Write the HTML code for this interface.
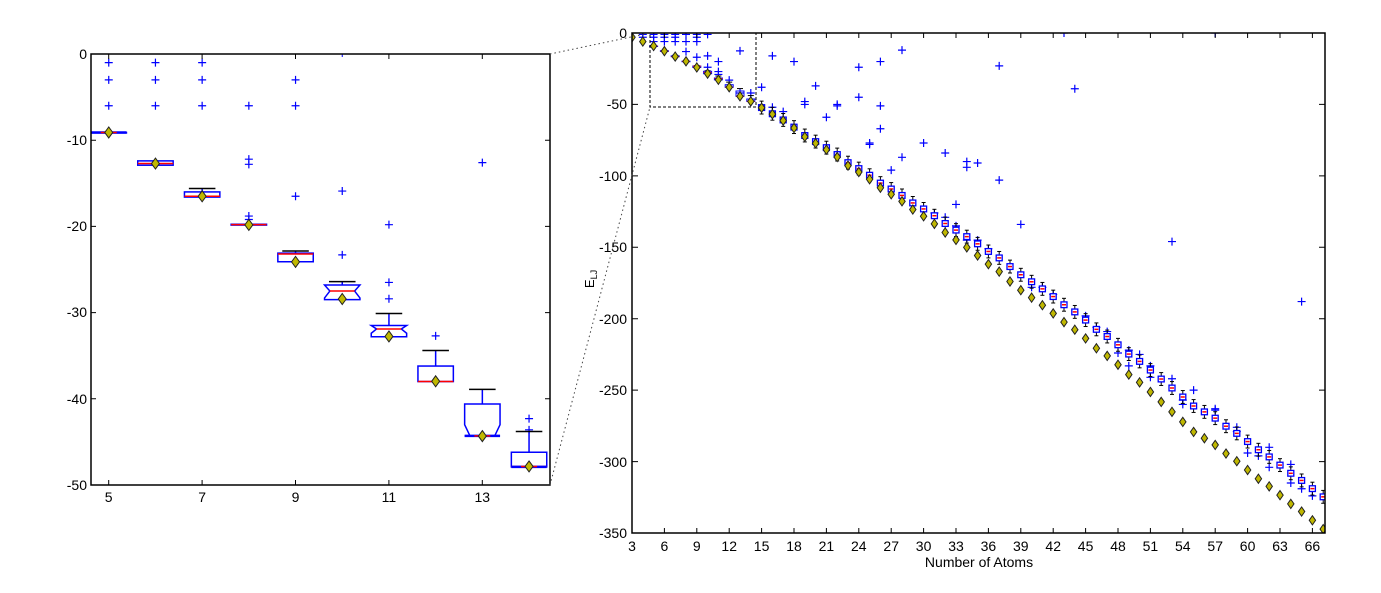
<!DOCTYPE html>
<html><head><meta charset="utf-8"><style>
html,body{margin:0;padding:0;background:#fff;}
svg{display:block;font-family:"Liberation Sans",Arial,sans-serif;}
</style></head><body>
<svg id="s" width="1381" height="593" viewBox="0 0 1381 593" xmlns="http://www.w3.org/2000/svg">
<defs>
<clipPath id="cl"><rect x="91" y="54" width="459" height="431"/></clipPath>
<clipPath id="cr"><rect x="632" y="33" width="693" height="500"/></clipPath>
</defs>
<rect width="1381" height="593" fill="#fff"/>
<g id="gl" clip-path="url(#cl)"></g>
<g id="gr" clip-path="url(#cr)"></g>
<g id="ax" stroke="#000" fill="none"></g>
<line x1="550" y1="54" x2="650" y2="33" stroke="#444" stroke-width="1" stroke-dasharray="1.5,3"/>
<line x1="550" y1="485" x2="650" y2="107" stroke="#444" stroke-width="1" stroke-dasharray="1.5,3"/>
<rect x="650" y="33" width="106" height="74" fill="none" stroke="#000" stroke-width="1" stroke-dasharray="3,2"/>
<g font-size="14" fill="#000" text-anchor="end">
<text x="87" y="59">0</text>
<text x="87" y="145">-10</text>
<text x="87" y="231">-20</text>
<text x="87" y="317">-30</text>
<text x="87" y="404">-40</text>
<text x="87" y="490">-50</text>
<text x="627" y="38">0</text>
<text x="627" y="109">-50</text>
<text x="627" y="181">-100</text>
<text x="627" y="252">-150</text>
<text x="627" y="324">-200</text>
<text x="627" y="395">-250</text>
<text x="627" y="467">-300</text>
<text x="627" y="538">-350</text>
</g>
<g font-size="14" fill="#000" text-anchor="middle">
<text x="108.7" y="502">5</text>
<text x="202.1" y="502">7</text>
<text x="295.5" y="502">9</text>
<text x="388.9" y="502">11</text>
<text x="482.3" y="502">13</text>
<text x="632" y="551">3</text>
<text x="664.4" y="551">6</text>
<text x="696.8" y="551">9</text>
<text x="729.2" y="551">12</text>
<text x="761.6" y="551">15</text>
<text x="794" y="551">18</text>
<text x="826.4" y="551">21</text>
<text x="858.8" y="551">24</text>
<text x="891.2" y="551">27</text>
<text x="923.6" y="551">30</text>
<text x="956" y="551">33</text>
<text x="988.4" y="551">36</text>
<text x="1020.8" y="551">39</text>
<text x="1053.2" y="551">42</text>
<text x="1085.6" y="551">45</text>
<text x="1118" y="551">48</text>
<text x="1150.4" y="551">51</text>
<text x="1182.8" y="551">54</text>
<text x="1215.2" y="551">57</text>
<text x="1247.6" y="551">60</text>
<text x="1280" y="551">63</text>
<text x="1312.4" y="551">66</text>
<text x="979" y="567">Number of Atoms</text>
</g>
<text transform="translate(594,279) rotate(-90)" font-size="13" text-anchor="middle">E<tspan font-size="9" dy="3">LJ</tspan></text>
</svg>
<script>
var NS="http://www.w3.org/2000/svg";
function el(p,t,a){var e=document.createElementNS(NS,t);for(var k in a)e.setAttribute(k,a[k]);p.appendChild(e);return e;}
var E={3:-3,4:-6,5:-9.103852,6:-12.712062,7:-16.505384,8:-19.821489,9:-24.113360,10:-28.422532,11:-32.765970,12:-37.967600,13:-44.326801,14:-47.845157,15:-52.322627,16:-56.815742,17:-61.317995,18:-66.530949,19:-72.659782,20:-77.177043,21:-81.684571,22:-86.809782,23:-92.844472,24:-97.348815,25:-102.372663,26:-108.315616,27:-112.873584,28:-117.822402,29:-123.587371,30:-128.286571,31:-133.586422,32:-139.635524,33:-144.842719,34:-150.044528,35:-155.756643,36:-161.825363,37:-167.033672,38:-173.928427,39:-180.033185,40:-185.249839,41:-190.536277,42:-196.277534,43:-202.364664,44:-207.688728,45:-213.784862,46:-220.680330,47:-226.012256,48:-232.199529,49:-239.091864,50:-244.549926,51:-251.253964,52:-258.229991,53:-265.203016,54:-272.208631,55:-279.248470,56:-283.643105,57:-288.342625,58:-294.378148,59:-299.738070,60:-305.875476,61:-312.008896,62:-317.353901,63:-323.489734,64:-329.620147,65:-334.971532,66:-341.110599,67:-347.252007};
var gl=document.getElementById('gl'),gr=document.getElementById('gr'),ax=document.getElementById('ax');
function lx(n){return 91+(n-4.62)*46.7;}function ly(v){return 54-v*8.62;}
function rx(n){return 632+(n-3)*10.8;}function ry(v){return 33-v*1.4286;}
function plus(g,x,y,s){el(g,'path',{d:'M'+(x-s)+' '+y+'H'+(x+s)+'M'+x+' '+(y-s)+'V'+(y+s),stroke:'#00f','stroke-width':1.2,fill:'none'});}
function diamond(g,x,y,w,h){el(g,'path',{d:'M'+x+' '+(y-h)+'L'+(x+w)+' '+y+'L'+x+' '+(y+h)+'L'+(x-w)+' '+y+'Z',fill:'#c0b800',stroke:'#222','stroke-width':1});}
function box(g,x,hw,top,bot,med,cap,notch,sw){
 if(cap!==null){el(g,'line',{x1:x,y1:cap,x2:x,y2:top,stroke:'#00f','stroke-width':sw});
  el(g,'line',{x1:x-hw*0.75,y1:cap,x2:x+hw*0.75,y2:cap,stroke:'#000','stroke-width':sw});}
 if(notch){var n=notch,nw=hw*0.7;
  var a=Math.max(top,med-n),b=Math.min(bot,med+n);
  el(g,'path',{d:'M'+(x-hw)+' '+top+'H'+(x+hw)+'V'+a+'L'+(x+nw)+' '+med+'L'+(x+hw)+' '+b+'V'+bot+'H'+(x-hw)+'V'+b+'L'+(x-nw)+' '+med+'L'+(x-hw)+' '+a+'Z',fill:'none',stroke:'#00f','stroke-width':sw});
  el(g,'line',{x1:x-nw,y1:med,x2:x+nw,y2:med,stroke:'#f00','stroke-width':sw});
 }else{
  el(g,'rect',{x:x-hw,y:top,width:2*hw,height:Math.max(bot-top,0.5),fill:'none',stroke:'#00f','stroke-width':sw});
  el(g,'line',{x1:x-hw,y1:med,x2:x+hw,y2:med,stroke:'#f00','stroke-width':sw});
 }
}
var LD=[[5,-9.1,-9.1,-9.1,null,0,[-1,-3,-6]],[6,-12.4,-12.9,-12.7,null,0,[-1,-3,-6]],[7,-16,-16.6,-16.5,-15.6,0,[-1,-3,-6]],
[8,-19.75,-19.85,-19.8,null,0,[-6,-12.2,-12.8,-18.8,-19.2]],[9,-23.1,-24.1,-23.2,-22.85,0,[-3,-6,-16.5]],
[10,-26.8,-28.5,-27.5,-26.4,0.8,[-15.9,-23.3]],[11,-31.5,-32.8,-31.9,-30.1,0.5,[-19.8,-26.5,-28.4]],
[12,-36.2,-38,-38,-34.4,0,[-32.7]],[13,-40.6,-44.3,-44.3,-38.9,1.3,[-12.6]],[14,-46.2,-47.9,-47.85,-43.8,0,[-42.3,-43.6]]];
LD.forEach(function(d){var x=lx(d[0]);
 d[6].forEach(function(v){plus(gl,x,ly(v),4);});
 box(gl,x,17.7,ly(d[1]),ly(d[2]),ly(d[3]),d[4]===null?null:ly(d[4]),d[5]?d[5]*8.62:0,1.5);
 if(d[0]==13||d[0]==5||d[0]==14){el(gl,'line',{x1:x-17.7,y1:ly(d[2]),x2:x+17.7,y2:ly(d[2]),stroke:'#00f','stroke-width':2.5});el(gl,'line',{x1:x-8,y1:ly(d[3]),x2:x+8,y2:ly(d[3]),stroke:'#f00','stroke-width':1.5});}
 diamond(gl,x,ly(E[d[0]]),4,5.5);
});
el(gl,'line',{x1:lx(10),y1:54,x2:lx(10),y2:57,stroke:'#00f','stroke-width':1});
var RO=[[13,-12.5],[16,-16],[18,-20],[15,-38],[20,-37],[19,-48],[19,-50],[21,-59],[22,-50],[22,-51],[24,-24],[24,-45],[26,-20],[26,-51],[26,-67],[25,-77],[25,-78],[28,-12],[28,-87],[27,-96],[30,-77],[32,-84],[33,-120],[34,-90],[34,-94],[35,-91],[37,-23],[37,-103],[39,-134],[44,-39],[43,0],[53,-146],[57,0],[65,-188],
[40,-178],[41,-178],[42,-183],[45,-198],[46,-206],[47,-209],[48,-224],[49,-222],[49,-233],[50,-225],[51,-233],[51,-241],[53,-242],[54,-257],[54,-260],[55,-250],[57,-263],[57,-264],[59,-276],[59,-279],[60,-294],[61,-296],[62,-290],[62,-304],[64,-302],[64,-315],[65,-319],[66,-324],[33,-135],[34,-145],[35,-145],[36,-151],[31,-126],[32,-129],[16,-52],[17,-55],[14,-42],[13,-42],[12,-33],[11,-20],[11,-27],[11,-29],[10,-16],[10,-24],[9,-17],[9,-3],[9,-6],[8,-6],[8,-13],[7,-3],[7,-6],[6,-3],[6,-6],[5,-3],[5,-6],[4,-1],[5,-1],[6,-1],[7,-1],[8,-1],[9,-1],[10,-1],[4,-3]];
RO.forEach(function(p){plus(gr,rx(p[0]),ry(p[1]),4);});
LD.forEach(function(d){var x=rx(d[0]);box(gr,x,4,ry(d[1]),ry(d[2]),ry(d[3]),d[4]===null?null:ry(d[4]),0,1);});
for(var n=15;n<=67;n++){var e=E[n];var dd=Math.min(0.06,Math.max(0,(n-14)*0.0025));if(n>50)dd=0.06+(n-50)*0.001;if(dd>0.065)dd=0.065;
 var m=e*(1-dd);var x=rx(n);
 el(gr,'line',{x1:x,y1:ry(m+4.5),x2:x,y2:ry(m-4.5),stroke:'#000','stroke-width':1});
 el(gr,'line',{x1:x-2,y1:ry(m+4.5),x2:x+2,y2:ry(m+4.5),stroke:'#000','stroke-width':1});
 el(gr,'line',{x1:x-2,y1:ry(m-4.5),x2:x+2,y2:ry(m-4.5),stroke:'#000','stroke-width':1});
 el(gr,'rect',{x:x-3,y:ry(m+2),width:6,height:4*1.4286,fill:'#fff',stroke:'#00f','stroke-width':1.3});
 el(gr,'line',{x1:x-2,y1:ry(m),x2:x+2,y2:ry(m),stroke:'#f00','stroke-width':1.5});
}
for(var n=3;n<=67;n++){diamond(gr,rx(n),ry(E[n]),3.2,4.6);}
function axes(x0,y0,x1,y1){el(ax,'rect',{x:x0,y:y0,width:x1-x0,height:y1-y0,'stroke-width':1.5});}
axes(91,54,550,485);axes(632,33,1325,533);
[108.7,202.1,295.5,388.9,482.3].forEach(function(x){el(ax,'path',{d:'M'+x+' 485v-5M'+x+' 54v5','stroke-width':1});});
[140.2,226.4,312.6,398.8].forEach(function(y){el(ax,'path',{d:'M91 '+y+'h5M550 '+y+'h-5','stroke-width':1});});
for(var n=3;n<=66;n+=3){var x=rx(n);el(ax,'path',{d:'M'+x+' 533v-5M'+x+' 33v5','stroke-width':1});}
for(var v=-50;v>=-300;v-=50){var y=ry(v);el(ax,'path',{d:'M632 '+y+'h6M1325 '+y+'h-6','stroke-width':1});}
</script>
</body></html>
